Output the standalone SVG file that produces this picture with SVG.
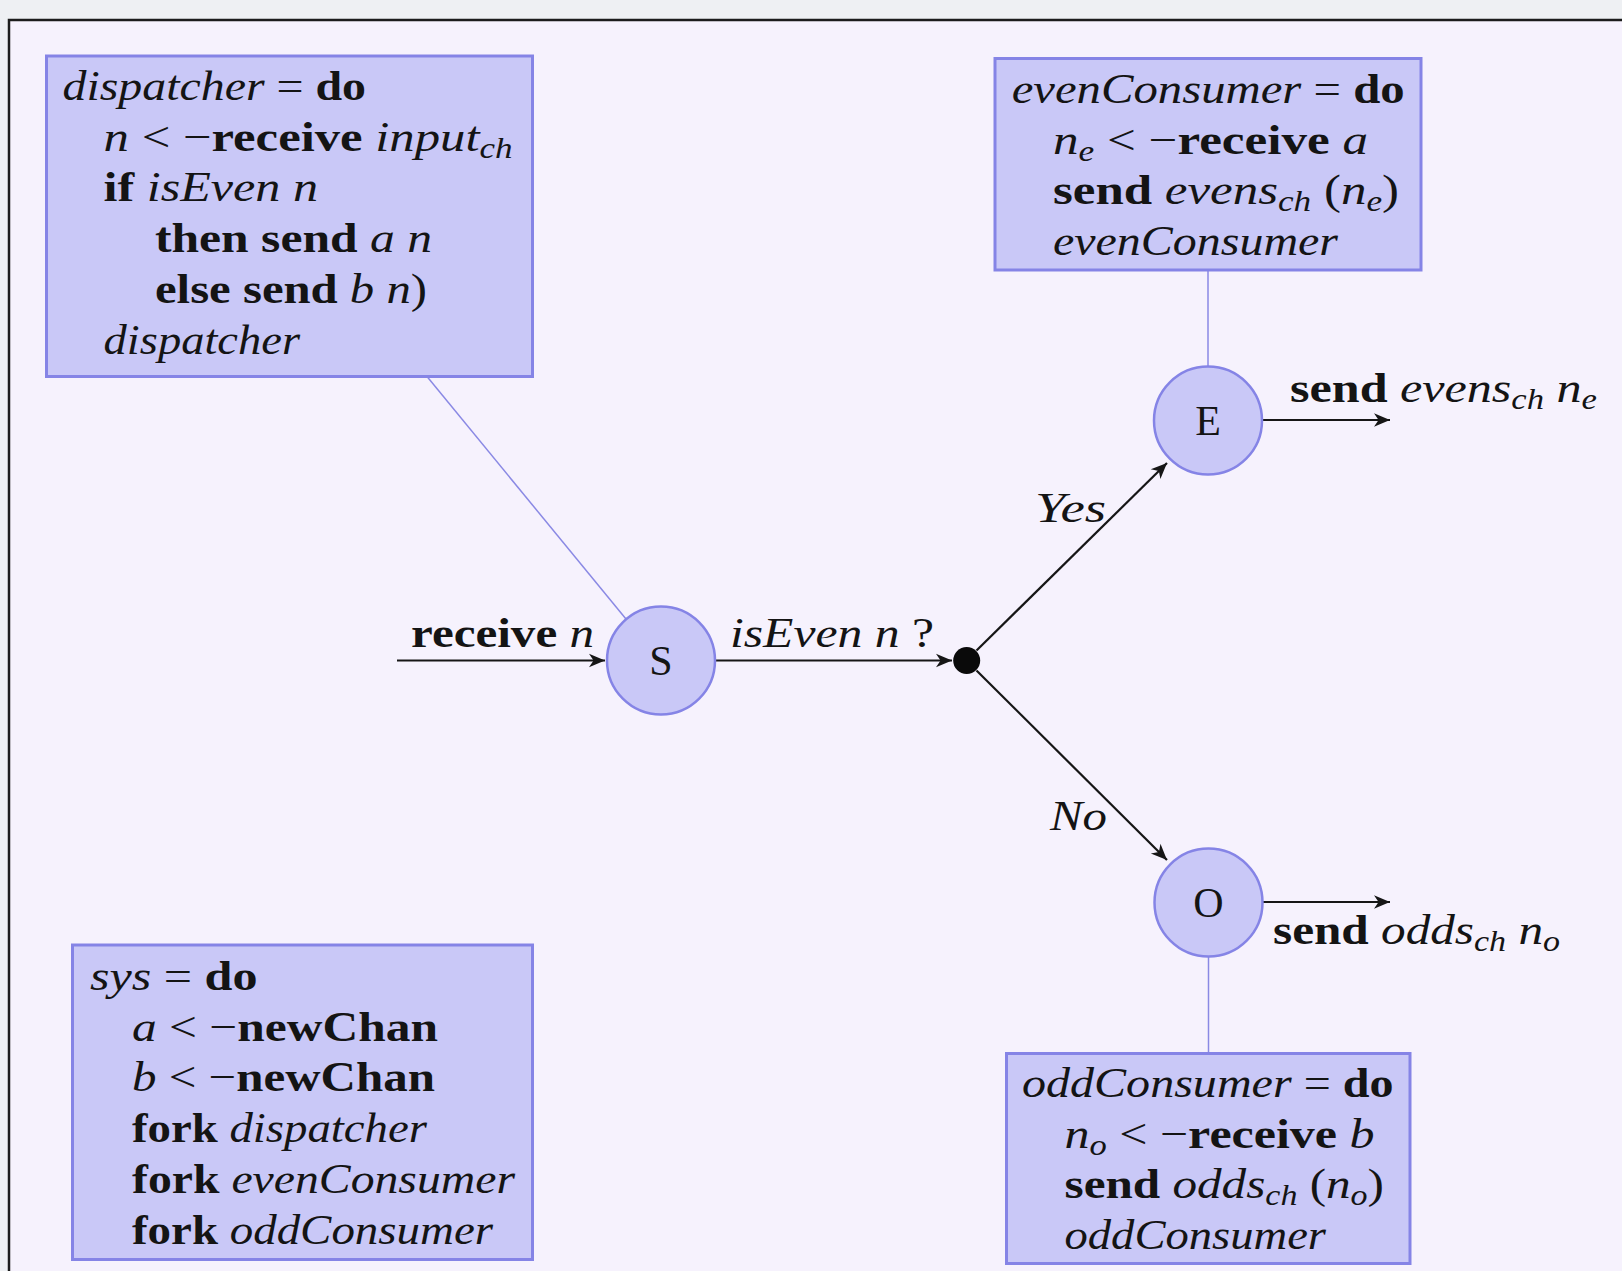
<svg xmlns="http://www.w3.org/2000/svg" width="1622" height="1271" viewBox="0 0 1622 1271">
  <style>
    text { font-family: "Liberation Serif", "Times New Roman", serif; font-size: 42px; fill: #141414; }
    .m { font-style: italic; }
    .b { font-weight: bold; }
    .sub { font-size: 29px; font-style: italic; }
    .box { fill: #c9c8f7; stroke: #8584e6; stroke-width: 3; }
    .state { fill: #c9c8f7; stroke: #8584e6; stroke-width: 2.5; }
    .note { stroke: #8a89e4; stroke-width: 1.5; fill: none; }
    .flow { stroke: #161616; stroke-width: 2.2; fill: none; marker-end: url(#tip); }
    .lbl { text-anchor: middle; }
  </style>
  <defs>
    <marker id="tip" markerUnits="userSpaceOnUse" markerWidth="20" markerHeight="16" viewBox="-15 -7 17 14" refX="0" refY="0" orient="auto">
      <path d="M0,0 L-14,-6 L-10,0 L-14,6 Z" fill="#161616"/>
    </marker>
  </defs>

  <!-- page and frame -->
  <rect x="0" y="0" width="1622" height="1271" fill="#eef0f3"/>
  <rect x="9" y="20" width="1640" height="1290" fill="#f6f2fd" stroke="#1c1c1c" stroke-width="2.5"/>

  <!-- connectors -->
  <g id="connectors">
    <line class="note" x1="427" y1="376.5" x2="626" y2="619"/>
    <line class="note" x1="1208" y1="270" x2="1208" y2="366"/>
    <line class="note" x1="1208.5" y1="957" x2="1208.5" y2="1053"/>
    <line class="flow" x1="397" y1="660.5" x2="605" y2="660.5"/>
    <line class="flow" x1="716" y1="660.5" x2="952" y2="660.5"/>
    <line class="flow" x1="976.5" y1="650.5" x2="1167" y2="463"/>
    <line class="flow" x1="976.5" y1="670.5" x2="1167" y2="860"/>
    <line class="flow" x1="1262" y1="420" x2="1390" y2="420"/>
    <line class="flow" x1="1262" y1="902" x2="1390" y2="902"/>
  </g>

  <!-- edge labels -->
  <g id="edge-labels">
    <text x="411" y="646.5" textLength="183" lengthAdjust="spacingAndGlyphs"><tspan class="b">receive</tspan> <tspan class="m">n</tspan></text>
    <text x="730" y="646.5" textLength="204" lengthAdjust="spacingAndGlyphs"><tspan class="m">isEven n</tspan> ?</text>
    <text x="1035" y="521.5" class="m" textLength="71" lengthAdjust="spacingAndGlyphs">Yes</text>
    <text x="1050" y="830" class="m" textLength="57" lengthAdjust="spacingAndGlyphs">No</text>
    <text x="1290" y="401.5" textLength="307" lengthAdjust="spacingAndGlyphs"><tspan class="b">send</tspan> <tspan class="m">evens</tspan><tspan class="sub" dy="7">ch</tspan><tspan class="m" dy="-7"> n</tspan><tspan class="sub" dy="7">e</tspan></text>
    <text x="1273" y="943.5" textLength="287" lengthAdjust="spacingAndGlyphs"><tspan class="b">send</tspan> <tspan class="m">odds</tspan><tspan class="sub" dy="7">ch</tspan><tspan class="m" dy="-7"> n</tspan><tspan class="sub" dy="7">o</tspan></text>
  </g>

  <!-- state nodes -->
  <g id="node-S">
    <circle class="state" cx="661" cy="660.5" r="54"/>
    <text class="lbl" x="661" y="675">S</text>
  </g>
  <g id="node-junction">
    <circle cx="966.7" cy="660.5" r="13.5" fill="#0a0a0a"/>
  </g>
  <g id="node-E">
    <circle class="state" cx="1208" cy="420.5" r="54"/>
    <text class="lbl" x="1208" y="435">E</text>
  </g>
  <g id="node-O">
    <circle class="state" cx="1208.5" cy="902.5" r="54"/>
    <text class="lbl" x="1208.5" y="917">O</text>
  </g>

  <!-- code boxes -->
  <g id="box-dispatcher">
    <rect class="box" x="46.5" y="56" width="486" height="320.5"/>
    <text x="62.5" y="100" textLength="303.5" lengthAdjust="spacingAndGlyphs"><tspan class="m">dispatcher</tspan> = <tspan class="b">do</tspan></text>
    <text x="103.6" y="150.7" textLength="409" lengthAdjust="spacingAndGlyphs"><tspan class="m">n</tspan> &lt; −<tspan class="b">receive</tspan> <tspan class="m">input</tspan><tspan class="sub" dy="7">ch</tspan></text>
    <text x="103.6" y="201.4" textLength="214.4" lengthAdjust="spacingAndGlyphs"><tspan class="b">if</tspan> <tspan class="m">isEven n</tspan></text>
    <text x="155" y="252" textLength="277" lengthAdjust="spacingAndGlyphs"><tspan class="b">then send</tspan> <tspan class="m">a n</tspan></text>
    <text x="155" y="302.8" textLength="272" lengthAdjust="spacingAndGlyphs"><tspan class="b">else send</tspan> <tspan class="m">b n</tspan>)</text>
    <text x="103.6" y="353.5" class="m" textLength="196.4" lengthAdjust="spacingAndGlyphs">dispatcher</text>
  </g>

  <g id="box-evenConsumer">
    <rect class="box" x="995" y="58.5" width="426" height="211.5"/>
    <text x="1011.7" y="103" textLength="393" lengthAdjust="spacingAndGlyphs"><tspan class="m">evenConsumer</tspan> = <tspan class="b">do</tspan></text>
    <text x="1053" y="153.7" textLength="315" lengthAdjust="spacingAndGlyphs"><tspan class="m">n</tspan><tspan class="sub" dy="7">e</tspan><tspan dy="-7"> &lt; −</tspan><tspan class="b">receive</tspan> <tspan class="m">a</tspan></text>
    <text x="1053" y="204.4" textLength="346" lengthAdjust="spacingAndGlyphs"><tspan class="b">send</tspan> <tspan class="m">evens</tspan><tspan class="sub" dy="7">ch</tspan><tspan dy="-7"> (</tspan><tspan class="m">n</tspan><tspan class="sub" dy="7">e</tspan><tspan dy="-7">)</tspan></text>
    <text x="1053" y="255" class="m" textLength="285" lengthAdjust="spacingAndGlyphs">evenConsumer</text>
  </g>

  <g id="box-oddConsumer">
    <rect class="box" x="1006.5" y="1053.5" width="403.5" height="210"/>
    <text x="1022" y="1097" textLength="371.5" lengthAdjust="spacingAndGlyphs"><tspan class="m">oddConsumer</tspan> = <tspan class="b">do</tspan></text>
    <text x="1064.5" y="1147.5" textLength="310" lengthAdjust="spacingAndGlyphs"><tspan class="m">n</tspan><tspan class="sub" dy="7">o</tspan><tspan dy="-7"> &lt; −</tspan><tspan class="b">receive</tspan> <tspan class="m">b</tspan></text>
    <text x="1064.5" y="1198" textLength="319.5" lengthAdjust="spacingAndGlyphs"><tspan class="b">send</tspan> <tspan class="m">odds</tspan><tspan class="sub" dy="7">ch</tspan><tspan dy="-7"> (</tspan><tspan class="m">n</tspan><tspan class="sub" dy="7">o</tspan><tspan dy="-7">)</tspan></text>
    <text x="1064.5" y="1248.5" class="m" textLength="261.5" lengthAdjust="spacingAndGlyphs">oddConsumer</text>
  </g>

  <g id="box-sys">
    <rect class="box" x="72.5" y="945" width="460" height="314.5"/>
    <text x="90" y="990" textLength="167.5" lengthAdjust="spacingAndGlyphs"><tspan class="m">sys</tspan> = <tspan class="b">do</tspan></text>
    <text x="132" y="1040.7" textLength="306" lengthAdjust="spacingAndGlyphs"><tspan class="m">a</tspan> &lt; −<tspan class="b">newChan</tspan></text>
    <text x="132" y="1091.4" textLength="303" lengthAdjust="spacingAndGlyphs"><tspan class="m">b</tspan> &lt; −<tspan class="b">newChan</tspan></text>
    <text x="132" y="1142" textLength="295" lengthAdjust="spacingAndGlyphs"><tspan class="b">fork</tspan> <tspan class="m">dispatcher</tspan></text>
    <text x="132" y="1192.8" textLength="383" lengthAdjust="spacingAndGlyphs"><tspan class="b">fork</tspan> <tspan class="m">evenConsumer</tspan></text>
    <text x="132" y="1243.5" textLength="361" lengthAdjust="spacingAndGlyphs"><tspan class="b">fork</tspan> <tspan class="m">oddConsumer</tspan></text>
  </g>
</svg>
